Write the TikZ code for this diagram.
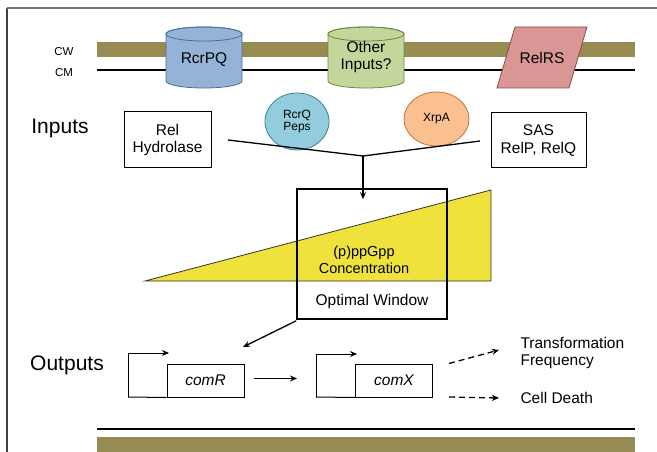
\documentclass[tikz,border=0pt]{standalone}
\usepackage{fontspec}
\setmainfont{Liberation Sans}
\usetikzlibrary{arrows.meta,shapes.geometric}

\definecolor{wallolive}{HTML}{968B53}
\definecolor{rcrblue}{HTML}{95B3D7}
\definecolor{rcrblueline}{HTML}{4F6F98}
\definecolor{othergreen}{HTML}{C3D69B}
\definecolor{othergreenline}{HTML}{6E8741}
\definecolor{relpink}{HTML}{D99694}
\definecolor{relpinkline}{HTML}{8A4C4A}
\definecolor{pepcyan}{HTML}{93CDDD}
\definecolor{pepcyanline}{HTML}{3E8192}
\definecolor{xrporange}{HTML}{FAC090}
\definecolor{xrporangeline}{HTML}{B9773F}
\definecolor{ppyellow}{HTML}{F0E23C}

% vertical drum: centre x, top-ellipse y, bottom-ellipse y, fill, outline
\newcommand\drumshape[5]{%
  \filldraw[fill=#4,draw=#5,line width=.8pt]
    (#1-38,#2) -- (#1-38,#3)
    arc[start angle=180,end angle=360,x radius=38pt,y radius=7pt]
    -- (#1+38,#2)
    arc[start angle=0,end angle=180,x radius=38pt,y radius=7pt] -- cycle;
  \draw[#5,line width=.8pt] (#1,#2) ellipse[x radius=38pt,y radius=7pt];
}

\begin{document}
\begin{tikzpicture}[x=1pt,y=-1pt,
  big/.style={font=\fontsize{21}{24}\selectfont},
  mid/.style={font=\fontsize{15.5}{17.5}\selectfont},
  small/.style={font=\fontsize{12}{13.5}\selectfont},
  tiny/.style={font=\fontsize{11.5}{13}\selectfont},
  inbox/.style={draw,line width=1pt,align=center,mid,inner sep=0pt},
  gene/.style={draw,line width=1pt,minimum width=77pt,minimum height=33pt,
               inner sep=0pt,mid,font=\fontsize{15.5}{17.5}\selectfont\itshape},
  arr/.style={-{Stealth[length=7pt,width=6pt]},line width=1.3pt},
  dasharr/.style={-{Stealth[length=7pt,width=6pt]},line width=1.3pt,
                  dash pattern=on 6pt off 4pt},
  blob/.style={ellipse,line width=.8pt,inner sep=0pt,align=center,small}]

\useasboundingbox (0,0) rectangle (657,452);

% page frame
\draw[color=black!75,line width=1.5pt] (7,452) -- (7,8);
\draw[color=black!55,line width=1.5pt] (7,8) -- (657,8);

% cell wall and membrane
\fill[wallolive] (97,42) rectangle (635,57);
\draw[line width=2.5pt] (97,70) -- (635,70);
\node[tiny] (cw) at (64,52) {CW};
\node[tiny] (cm) at (64,73) {CM};

% membrane sensors
\drumshape{204}{34}{81}{rcrblue}{rcrblueline}
\node[mid] (rcrpq) at (204,60) {RcrPQ};
\drumshape{366}{34}{81}{othergreen}{othergreenline}
\node[mid,align=center] (other) at (366,57) {Other\\[-1pt]Inputs?};
\filldraw[fill=relpink,draw=relpinkline,line width=.8pt]
  (515,27) -- (587,27) -- (569,88) -- (497,88) -- cycle;
\node[mid] (relrs) at (542,58) {RelRS};

% signalling inputs
\node[big] (inputs) at (60,128) {Inputs};
\node[blob,fill=pepcyan,draw=pepcyanline,minimum width=64pt,minimum height=57pt]
  (rcrq) at (297,121.5) {RcrQ\\[-2pt]Peps};
\node[blob,fill=xrporange,draw=xrporangeline,minimum width=65pt,minimum height=54pt]
  (xrpa) at (436.5,119) {XrpA};
\node[inbox,minimum width=87pt,minimum height=56pt] (relh) at (167.5,140)
  {Rel\\Hydrolase};
\node[inbox,minimum width=95pt,minimum height=55pt] (sas) at (538.5,140.5)
  {SAS\\RelP, RelQ};

\coordinate (ml) at (228,140);
\coordinate (mr) at (480,141);
\coordinate (mj) at (363,156);
\draw[line width=1.3pt] (ml) -- (mj) -- (mr);

% alarmone level and the optimal window
\fill[ppyellow,draw=black!80,line width=.8pt] (145,281) -- (491,190) -- (491,281) -- cycle;
\node[draw,line width=1.6pt,minimum width=150pt,minimum height=130pt,inner sep=0pt]
  (win) at (372,254) {};
\node[mid,align=center,font=\fontsize{14.5}{16.5}\selectfont] (ppgpp) at (364,260)
  {(p)ppGpp\\Concentration};
\node[mid] (optw) at (372,301) {Optimal Window};
\draw[arr] (mj) -- ([yshift=-11pt]win.north -| mj);

% outputs
\node[big] (outputs) at (67,365) {Outputs};
\node[gene] (comr) at (205.5,380.5) {comR};
\node[gene] (comx) at (394,380.5) {comX};
\coordinate (rtarget) at (243,347);
\draw[arr] ([shift={(0,1)}]win.south west) -- (rtarget);

\draw[line width=1pt] (comr.south west) -- (128,397);
\draw[arr,line width=1pt] (128,397) -- (128,353) -- (169,353);
\draw[line width=1pt] (comx.south west) -- (316,397);
\draw[arr,line width=1pt] (316,397) -- (316,354) -- (357,354);

\draw[arr] ([shift={(9,-2)}]comr.east) -- ([shift={(-58,-2)}]comx.west);

\node[mid,anchor=west,align=left] (tf) at (517,353) {Transformation\\Frequency};
\node[mid,anchor=west] (cd) at (517,398) {Cell Death};
\draw[dasharr] ([shift={(16,-17)}]comx.east) -- ([shift={(-18,-3)}]tf.west);
\draw[dasharr] ([shift={(16,16.5)}]comx.east) -- ([xshift=-18pt]cd.west);

% inner membrane and wall at the bottom
\draw[line width=2.5pt] (97,429) -- (635,429);
\fill[wallolive] (97,437) rectangle (635,452);
\end{tikzpicture}
\end{document}
